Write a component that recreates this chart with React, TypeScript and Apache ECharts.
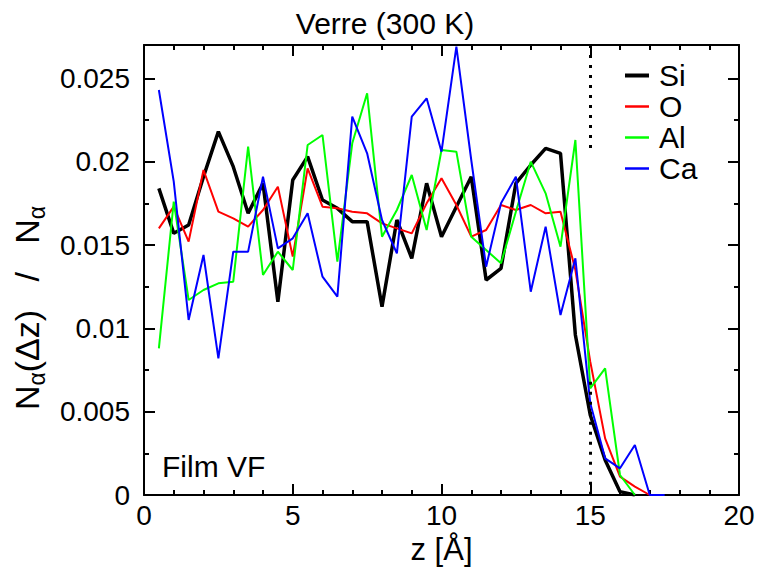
import React, { useEffect, useRef } from 'react';
import * as echarts from 'echarts';

const zValues = [0.5, 1, 1.5, 2, 2.5, 3, 3.5, 4, 4.5, 5, 5.5, 6, 6.5, 7, 7.5, 8, 8.5, 9, 9.5, 10, 10.5, 11, 11.5, 12, 12.5, 13, 13.5, 14, 14.5, 15, 15.5, 16, 16.5, 17, 17.5];

const siValues = [0.0184, 0.0157, 0.0162, 0.0191, 0.0218, 0.0197, 0.0169, 0.0187, 0.0116, 0.0189, 0.0203, 0.0177, 0.0172, 0.0164, 0.0164, 0.0113, 0.0165, 0.0142, 0.0187, 0.0155, 0.0173, 0.0191, 0.0129, 0.0136, 0.0187, 0.0198, 0.0208, 0.0205, 0.0096, 0.0048, 0.0021, 0.0002, 0, null, null];
const oValues = [0.016, 0.0173, 0.0152, 0.0195, 0.017, 0.0166, 0.0161, 0.0171, 0.0185, 0.0143, 0.0196, 0.0173, 0.0172, 0.017, 0.0169, 0.0163, 0.016, 0.0157, 0.0175, 0.019, 0.0174, 0.0155, 0.0159, 0.0174, 0.0171, 0.0174, 0.0169, 0.017, 0.0135, 0.008, 0.0034, 0.0011, 0.0005, 0, null];
const alValues = [0.0088, 0.0176, 0.0117, 0.0123, 0.0127, 0.0128, 0.0209, 0.0132, 0.0146, 0.0135, 0.021, 0.0216, 0.014, 0.0211, 0.0241, 0.0155, 0.0171, 0.0192, 0.0159, 0.0207, 0.0206, 0.0155, 0.0147, 0.0139, 0.017, 0.02, 0.0181, 0.0149, 0.0213, 0.0064, 0.0076, 0.0012, 0, null, null];
const caValues = [0.0243, 0.0188, 0.0105, 0.0144, 0.0082, 0.0146, 0.0146, 0.0191, 0.0148, 0.0154, 0.0169, 0.0131, 0.0119, 0.0227, 0.0205, 0.0165, 0.0145, 0.0227, 0.0238, 0.0206, 0.0269, 0.0201, 0.0137, 0.0175, 0.0191, 0.0122, 0.0161, 0.0108, 0.0142, 0.0055, 0.0022, 0.0016, 0.003, 0, 0];

const seriesNames = ['Si', 'O', 'Al', 'Ca'];
const seriesColors = ['#000000', '#ff0000', '#00ff00', '#0000ff'];
const seriesWidths = [3.5, 2, 2, 2];
const seriesValues = [siValues, oValues, alValues, caValues];

const FONT = '"Liberation Sans", Arial, Helvetica, sans-serif';

export default function App() {
  const ref = useRef<HTMLDivElement>(null);
  useEffect(() => {
    const chart = echarts.init(ref.current!, null, { renderer: 'svg' });
    const grid = { left: 144, right: 20, top: 45, bottom: 80, containLabel: false };
    const axisLine = { show: true, onZero: false, lineStyle: { color: '#000', width: 2 } };
    const majorTick = { show: true, inside: true, length: 11, lineStyle: { color: '#000', width: 2 } };
    const minorTickStyle = { show: true, inside: true, length: 5, lineStyle: { color: '#000', width: 2 } };
    const yFormatter = (v: number) => {
      const r = v / 0.005;
      return Math.abs(r - Math.round(r)) < 1e-6 ? String(+v.toFixed(4)) : '';
    };

    const series: any[] = seriesNames.map((name, k) => ({
      type: 'line',
      name,
      xAxisIndex: 0,
      yAxisIndex: 0,
      symbol: 'none',
      showSymbol: false,
      data: zValues.map((z, i) => [z, seriesValues[k][i]]).filter((p) => p[1] !== null),
      lineStyle: { color: seriesColors[k], width: seriesWidths[k] },
      itemStyle: { color: seriesColors[k] },
      emphasis: { disabled: true },
    }));
    series[0].markLine = {
      silent: true,
      symbol: 'none',
      label: { show: false },
      emphasis: { disabled: true },
      lineStyle: { color: '#000', width: 3, type: [3, 7] },
      data: [
        [{ coord: [15, 0.027] }, { coord: [15, 0.0205] }],
        [{ coord: [15, 0.0068] }, { coord: [15, 0] }],
      ],
    };

    chart.setOption({
      animation: false,
      grid: [grid, { ...grid }],
      legend: {
        orient: 'vertical',
        left: 623,
        top: 60,
        padding: 0,
        itemWidth: 24,
        itemHeight: 14,
        itemGap: 0,
        selectedMode: false,
        textStyle: { color: '#000', fontSize: 30, fontFamily: FONT, lineHeight: 31, padding: [0, 0, 0, 5] },
        data: seriesNames.map((name, k) => ({
          name,
          itemStyle: { opacity: 0 },
          lineStyle: { width: seriesWidths[k] + 0.5, color: seriesColors[k] },
        })),
      },
      xAxis: [
        {
          gridIndex: 0, type: 'value', position: 'bottom', min: 0, max: 20, interval: 5,
          axisLine, axisTick: majorTick,
          minorTick: { ...minorTickStyle, splitNumber: 5 },
          splitLine: { show: false }, minorSplitLine: { show: false },
          axisLabel: { color: '#000', fontSize: 28, fontFamily: FONT, margin: 6 },
          name: 'z [Å]', nameLocation: 'middle', nameGap: 39,
          nameTextStyle: { color: '#000', fontSize: 31, fontFamily: FONT },
        },
        {
          gridIndex: 0, type: 'value', position: 'top', min: 0, max: 20, interval: 5,
          axisLine, axisTick: majorTick,
          minorTick: { ...minorTickStyle, splitNumber: 5 },
          splitLine: { show: false }, minorSplitLine: { show: false },
          axisLabel: { show: false },
        },
        {
          gridIndex: 1, type: 'value', position: 'bottom', min: 0, max: 20, interval: 5,
          axisLine: { show: false }, axisTick: { show: false }, axisLabel: { show: false },
          splitLine: { show: false },
        },
      ],
      yAxis: [
        {
          gridIndex: 0, type: 'value', position: 'left', min: 0, max: 0.027, interval: 0.005,
          axisLine, axisTick: majorTick, splitLine: { show: false },
          axisLabel: { color: '#000', fontSize: 28, fontFamily: FONT, margin: 14, formatter: yFormatter },
        },
        {
          gridIndex: 0, type: 'value', position: 'right', min: 0, max: 0.027, interval: 0.005,
          axisLine, axisTick: majorTick, splitLine: { show: false }, axisLabel: { show: false },
        },
        {
          gridIndex: 1, type: 'value', position: 'left', min: 0, max: 0.027, interval: 0.0025,
          axisLine: { show: false }, axisTick: minorTickStyle, splitLine: { show: false }, axisLabel: { show: false },
        },
        {
          gridIndex: 1, type: 'value', position: 'right', min: 0, max: 0.027, interval: 0.0025,
          axisLine: { show: false }, axisTick: minorTickStyle, splitLine: { show: false }, axisLabel: { show: false },
        },
      ],
      graphic: [
        {
          type: 'text', x: 385, y: 23, silent: true,
          style: { text: 'Verre (300 K)', fill: '#000', fontSize: 30, fontFamily: FONT, align: 'center', verticalAlign: 'middle' },
        },
        {
          type: 'text', x: 162, y: 466, silent: true,
          style: { text: 'Film VF', fill: '#000', fontSize: 30, fontFamily: FONT, align: 'left', verticalAlign: 'middle' },
        },
        {
          type: 'text', x: 27, y: 308, rotation: Math.PI / 2, silent: true,
          style: {
            text: '{n|N}{s|α}{n|(Δz)   /   N}{s|α}',
            fill: '#000', fontFamily: FONT, align: 'center', verticalAlign: 'middle',
            rich: {
              n: { fontSize: 34, fontFamily: FONT, fill: '#000', lineHeight: 42, verticalAlign: 'middle' },
              s: { fontSize: 23, fontFamily: FONT, fill: '#000', lineHeight: 23, verticalAlign: 'bottom' },
            },
          },
        },
      ],
      series,
    });
    return () => chart.dispose();
  }, []);
  return <div ref={ref} style={{ position: 'absolute', left: 0, top: 0, width: 759, height: 575 }} />;
}
